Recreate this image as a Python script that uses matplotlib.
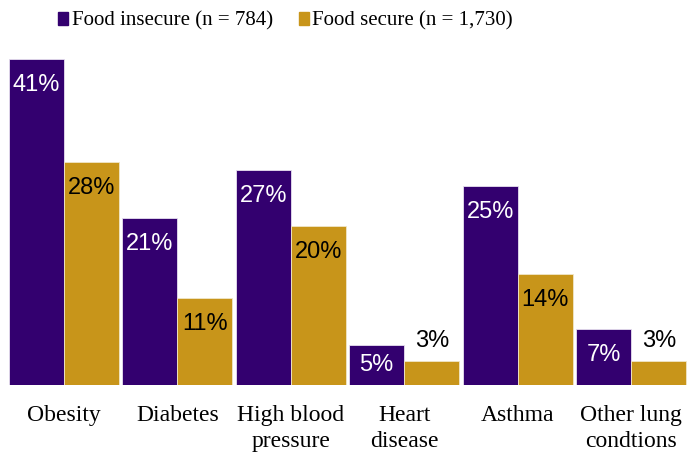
import matplotlib.pyplot as plt
import numpy as np

categories = ['Obesity', 'Diabetes', 'High blood\npressure', 'Heart\ndisease',
              'Asthma', 'Other lung\ncondtions']
insecure = [41, 21, 27, 5, 25, 7]
secure = [28, 11, 20, 3, 14, 3]
series_names = ['Food insecure (n = 784)', 'Food secure (n = 1,730)']

purple = '#33006F'
gold = '#C8951A'
serif = ['Liberation Serif', 'DejaVu Serif']
sans = ['Liberation Sans', 'DejaVu Sans']

fig = plt.figure(figsize=(6.88, 4.55), dpi=100)
ax = fig.add_axes([7 / 688, 70 / 455, 681 / 688, 326 / 455])

x = np.arange(len(categories))
w = 0.485
b1 = ax.bar(x - w / 2, insecure, w, color=purple, edgecolor='#e8e0f0', linewidth=0.6)
b2 = ax.bar(x + w / 2, secure, w, color=gold, edgecolor='#f0e6c8', linewidth=0.6)

ax.set_xlim(-0.5, len(categories) - 0.5)
ax.set_ylim(0, 41)
for s in ax.spines.values():
    s.set_visible(False)
ax.set_yticks([])
ax.set_xticks([])

px = 326 / 41  # pixels per percent


def label(bars, vals, inside_color):
    for rect, v in zip(bars, vals):
        cx = rect.get_x() + rect.get_width() / 2
        h = v * px
        if v <= 3:
            ax.annotate(f'{v}%', (cx, v), xytext=(0, 20 * 0.72), textcoords='offset points',
                        ha='center', va='center', fontsize=17, family=sans, color='black',
                        annotation_clip=False)
        else:
            off = min(26, h / 2)
            ax.annotate(f'{v}%', (cx, v), xytext=(0, -off * 0.72), textcoords='offset points',
                        ha='center', va='center', fontsize=17, family=sans, color=inside_color)


label(b1, insecure, 'white')
label(b2, secure, 'black')

for i, c in enumerate(categories):
    ax.text(i, -20 / px, c, ha='center', va='top', fontsize=17, family=serif,
            linespacing=1.3, transform=ax.transData)

# legend
fig.patches.append(plt.Rectangle((58 / 688, 1 - 25 / 455), 10 / 688, 13 / 455,
                                 transform=fig.transFigure, color=purple))
fig.text(72 / 688, 1 - 25 / 455, series_names[0], ha='left', va='baseline',
         fontsize=15, family=serif)
fig.patches.append(plt.Rectangle((299 / 688, 1 - 25 / 455), 10 / 688, 13 / 455,
                                 transform=fig.transFigure, color=gold))
fig.text(312 / 688, 1 - 25 / 455, series_names[1], ha='left', va='baseline',
         fontsize=15, family=serif)

fig.savefig('out.png', dpi=100)
